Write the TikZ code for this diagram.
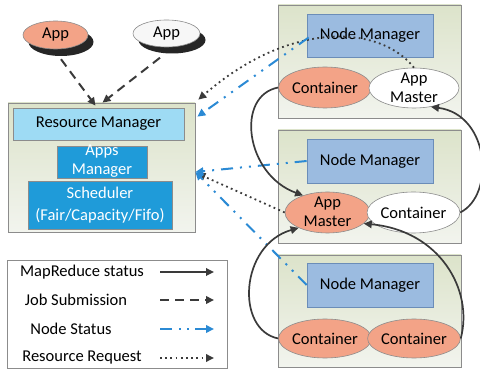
\documentclass[tikz,border=0pt]{standalone}
\usepackage{fontspec}
\setmainfont{Carlito}
\usetikzlibrary{shapes.geometric,arrows.meta}
\definecolor{salmonc}{HTML}{F3A387}
\definecolor{edgegray}{HTML}{8C8C8C}
\definecolor{paneltop}{HTML}{DCE3CA}
\definecolor{panelbot}{HTML}{F2F4EE}
\definecolor{nmblue}{HTML}{9BBBE0}
\definecolor{nmedge}{HTML}{6B8DB8}
\definecolor{rmblue}{HTML}{9EDBF4}
\definecolor{deepblue}{HTML}{1F9BD9}
\definecolor{linkblue}{HTML}{2B8AD4}
\definecolor{darkline}{HTML}{3A3A3A}
\begin{document}
\begin{tikzpicture}[x=1pt,y=-1pt,
  font=\fontsize{16.5}{19}\selectfont,
  panel/.style={rectangle, inner sep=0pt, draw=edgegray, line width=0.7pt, top color=paneltop, bottom color=panelbot},
  nmbox/.style={rectangle, inner sep=0pt, draw=nmedge, line width=0.7pt, fill=nmblue, minimum width=126pt, minimum height=44pt},
  salm/.style={ellipse, inner sep=0pt, draw=edgegray, fill=salmonc, line width=0.6pt},
  whel/.style={ellipse, inner sep=0pt, draw=edgegray, fill=white, line width=0.6pt},
  shad/.style={ellipse, inner sep=0pt, fill=black!85, minimum width=65pt, minimum height=28pt},
  txt/.style={inner sep=0pt, align=center},
  tip/.style={-{Triangle[length=8pt,width=7.5pt]}},
  mapred/.style={tip, draw=darkline, line width=1.7pt},
  jobsub/.style={tip, draw=darkline, line width=2pt, dash pattern=on 9pt off 6pt},
  nodestat/.style={tip, draw=linkblue, line width=2pt, dash pattern=on 12pt off 7pt on 2pt off 7pt on 2pt off 7pt},
  resreq/.style={tip, draw=darkline, line width=1.8pt, dash pattern=on 1.8pt off 3.4pt}
]
\useasboundingbox (0,0) rectangle (480,371);

% ---------- left: resource manager panel ----------
\node[panel, minimum width=187pt, minimum height=129pt] (rmbox) at (101.5,167.5) {};
\node[rectangle, inner sep=0pt, draw=edgegray, line width=0.6pt, fill=rmblue, minimum width=171pt, minimum height=32pt] (rm) at (98.5,124) {Resource Manager};
\node[rectangle, inner sep=0pt, draw=edgegray, line width=0.6pt, fill=deepblue, minimum width=90pt, minimum height=32pt] (appsm) at (102,162) {};
\node[txt, text=white] (appsmt) at (102,161.5) {Apps\\Manager};
\node[rectangle, inner sep=0pt, draw=edgegray, line width=0.6pt, fill=deepblue, minimum width=144pt, minimum height=48pt, text=white, align=center] (sched) at (100,205) {Scheduler\\[3pt](Fair/Capacity/Fifo)};

% ---------- apps ----------
\node[shad] (app1s) at (61,42) {};
\node[salm, minimum width=65pt, minimum height=28pt] (app1) at (55.5,35) {App};
\node[shad, minimum width=67pt, minimum height=27pt] (app2s) at (172,40) {};
\node[whel, fill=gray!6, minimum width=67pt, minimum height=27pt] (app2) at (166.5,33.5) {App};

% ---------- right: node panels ----------
\node[panel, minimum width=183pt, minimum height=113pt] (box1) at (369.5,61.5) {};
\node[panel, minimum width=183pt, minimum height=113pt] (box2) at (369.5,186.5) {};
\node[panel, minimum width=183pt, minimum height=112pt] (box3) at (369.5,311) {};

\node[nmbox, minimum height=43pt] (nm1) at (370,35.5) {Node Manager};
\node[nmbox] (nm2) at (370,161) {Node Manager};
\node[nmbox] (nm3) at (370,285) {Node Manager};

\node[salm, minimum width=84pt, minimum height=41pt] (c1) at (325,87.5) {Container};
\node[whel, minimum width=90pt, minimum height=40pt] (am1) at (414,88) {};
\node[txt] (am1t) at (414,87.5) {App\\Master};

\node[salm, minimum width=85pt, minimum height=41pt] (am2) at (327.5,212.5) {};
\node[txt] (am2t) at (327.5,212) {App\\Master};
\node[whel, minimum width=83pt, minimum height=41pt] (c2) at (413.5,212.5) {Container};

\node[salm, minimum width=84pt, minimum height=39pt] (c3a) at (325,338.5) {Container};
\node[salm, minimum width=82pt, minimum height=39pt] (c3b) at (414,338.5) {Container};

% ---------- legend ----------
\node[rectangle, inner sep=0pt, draw=edgegray, line width=0.7pt, fill=white, minimum width=220pt, minimum height=108pt] (legend) at (117,314) {};
\node[txt] (l1) at (82,272) {MapReduce status};
\node[txt] (l2) at (76,300) {Job Submission};
\node[txt] (l3) at (71,329) {Node Status};
\node[txt] (l4) at (82,358) {Resource Request};
\coordinate (l1a) at (160,272); \coordinate (l1b) at (214,272);
\coordinate (l2a) at (160,300); \coordinate (l2b) at (214,300);
\coordinate (l3a) at (160,329); \coordinate (l3b) at (214,329);
\coordinate (l4a) at (160,358); \coordinate (l4b) at (214,358);
\draw[mapred] (l1a) -- (l1b);
\draw[jobsub] (l2a) -- (l2b);
\draw[nodestat, dash pattern=on 12pt off 7pt on 2pt off 6pt on 2pt off 6pt] (l3a) -- (l3b);
\draw[resreq] (l4a) -- (l4b);

% ---------- job submission ----------
\draw[jobsub] ([shift={(0,3)}]app1s.south) -- ([shift={(-6,3)}]rmbox.north);
\draw[jobsub] ([shift={(-12,4)}]app2s.south) -- ([shift={(1,0)}]rmbox.north);

% ---------- resource requests ----------
\draw[resreq] (am1.north) .. controls +(-34,-43) and +(92,-80) .. ([shift={(3,-3)}]rmbox.north east);
\draw[resreq] (am2.west) -- ([shift={(2,6)}]rmbox.east);

% ---------- node status ----------
\draw[nodestat] ([shift={(2,2)}]nm1.west) -- ([shift={(2,14)}]rmbox.north east);
\draw[nodestat] (nm2.west) -- ([shift={(0,4.5)}]rmbox.east);
\draw[nodestat] (nm3.west) -- ([shift={(0,4.5)}]rmbox.east);

% ---------- mapreduce status ----------
\draw[mapred] (c1.west) .. controls +(-43,8) and +(-58,-21) .. (am2.145);
\draw[mapred] (c2.east) .. controls +(35,-17.5) and +(59,8) .. (am1.312);
\draw[mapred] (c3a.west) .. controls +(-43,-8.5) and +(-59,17) .. (am2.208);
\draw[mapred] (c3b.east) .. controls +(13,-48.5) and +(76,7) .. (am2.343);
\end{tikzpicture}
\end{document}
